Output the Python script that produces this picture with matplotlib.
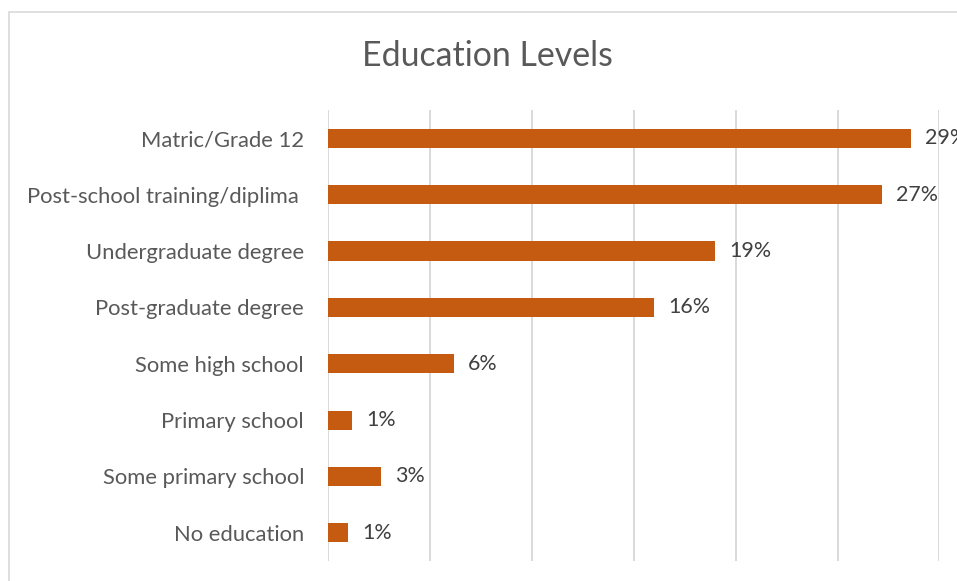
import matplotlib
matplotlib.use('Agg')
import matplotlib.pyplot as plt
from matplotlib.patches import Rectangle

# share of respondents per education level (top to bottom)
levels = ['Matric/Grade 12', 'Post-school training/diplima ', 'Undergraduate degree',
          'Post-graduate degree', 'Some high school', 'Primary school',
          'Some primary school', 'No education']
shares = [0.286, 0.272, 0.190, 0.160, 0.062, 0.012, 0.026, 0.010]

bar_color = '#C55A11'
grid_color = '#D9D9D9'
text_color = '#595959'
label_color = '#404040'

plt.rcParams['font.family'] = ['Lato', 'DejaVu Sans']

fig = plt.figure(figsize=(9.57, 5.81), dpi=100)
ax = fig.add_axes([0.3424, 0.0344, 0.6393, 0.7762])

ypos = list(range(len(levels)))
ax.barh(ypos, shares, height=0.34, color=bar_color, zorder=3)
ax.set_ylim(len(levels) - 0.5, -0.5)
ax.set_xlim(0, 0.30)

ax.set_xticks([i * 0.05 for i in range(7)])
ax.xaxis.grid(True, color=grid_color, linewidth=1.4, zorder=0)
ax.tick_params(axis='x', length=0, labelbottom=False)
ax.set_yticks(ypos)
ax.set_yticklabels(levels, fontsize=15.8, color=text_color)
ax.tick_params(axis='y', length=0, pad=17)
for side in ax.spines.values():
    side.set_visible(False)

for y, v in zip(ypos, shares):
    ax.annotate(f'{v:.0%}', xy=(v, y), xytext=(10, 0), textcoords='offset points',
                va='center', ha='left', fontsize=15.4, color=label_color,
                annotation_clip=False)

fig.text(0.509, 0.903, 'Education Levels', ha='center', va='center',
         fontsize=24.4, color=text_color)

# light outline of the chart area
fig.patches.append(Rectangle((9 / 957, -0.5), 2, 1.5 - 12 / 581,
                             transform=fig.transFigure, fill=False,
                             edgecolor=grid_color, linewidth=1.2))

fig.savefig('out.png', dpi=100)
